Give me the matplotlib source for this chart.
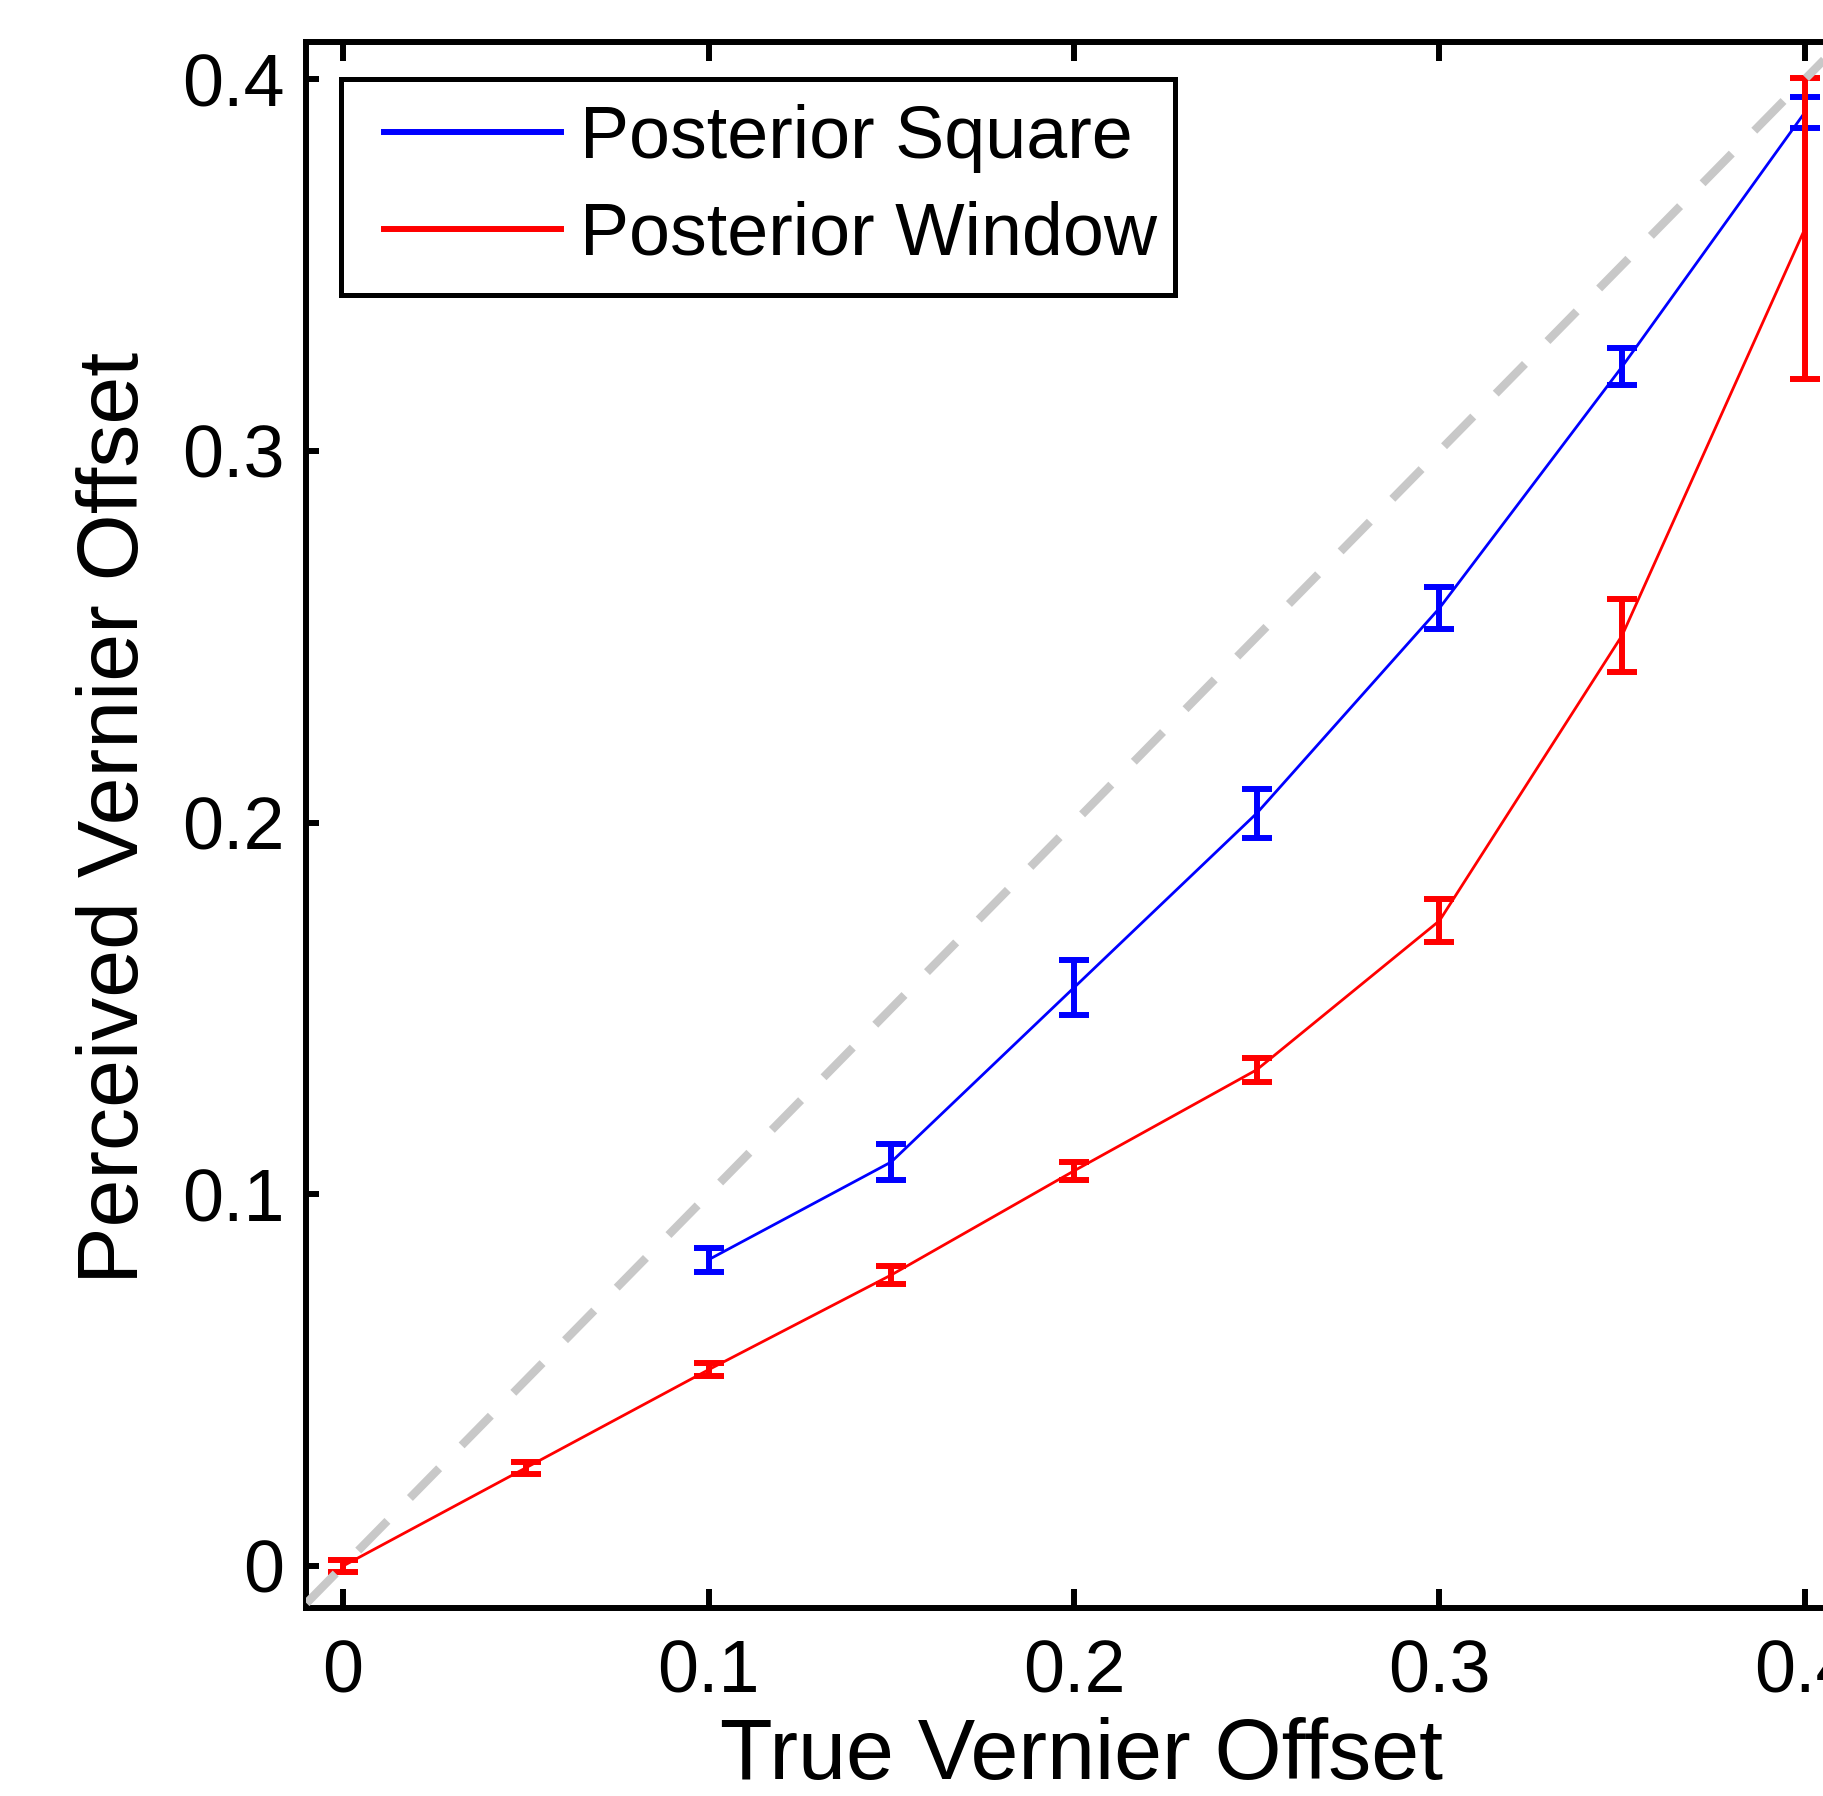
import numpy as np
import matplotlib
matplotlib.use("Agg")
import matplotlib.pyplot as plt
from matplotlib.lines import Line2D

# values
x_square = [0.10, 0.15, 0.20, 0.25, 0.30, 0.35, 0.40]
y_square = [0.0824, 0.1087, 0.1556, 0.2025, 0.2577, 0.3227, 0.3911]
e_square = [0.0032, 0.0049, 0.0073, 0.0066, 0.0057, 0.0050, 0.0042]

x_window = [0.00, 0.05, 0.10, 0.15, 0.20, 0.25, 0.30, 0.35, 0.40]
y_window = [0.0000, 0.0264, 0.0528, 0.0783, 0.1063, 0.1335, 0.1736, 0.2504, 0.3598]
e_window = [0.0016, 0.0016, 0.0017, 0.0025, 0.0024, 0.0032, 0.0058, 0.0098, 0.0404]

ticks = [0, 0.1, 0.2, 0.3, 0.4]
tick_labels = ['0', '0.1', '0.2', '0.3', '0.4']

plt.rcParams['font.family'] = ['Liberation Sans', 'DejaVu Sans']

W, H = 1824, 1796
fig = plt.figure(figsize=(W / 100, H / 100), dpi=100)
# axes runs past the right edge of the picture like in the reference
ax = fig.add_axes([306.5 / W, 1 - 1608 / H, 1535 / W, 1566 / H])

lw = 2.0
elw = 4.3
ax.errorbar(x_square, y_square, yerr=e_square, color='#0000ff', lw=lw,
            elinewidth=elw, capthick=elw, capsize=11, zorder=2)
ax.errorbar(x_window, y_window, yerr=e_window, color='#ff0000', lw=lw,
            elinewidth=elw, capthick=elw, capsize=11, zorder=3)
ax.axline((0, 0), slope=1, color='#c8c8c8', lw=6, dashes=(5.0, 3.85), zorder=4)

ax.set_xlim(-0.01, 0.41)
ax.set_ylim(-0.0113, 0.41)
ax.set_xticks(ticks)
ax.set_xticklabels(tick_labels)
ax.set_yticks(ticks)
ax.set_yticklabels(tick_labels)

for s in ax.spines.values():
    s.set_linewidth(4.3)
ax.tick_params(axis='both', direction='in', top=True, right=True,
               width=4.3, labelsize=53)
ax.tick_params(axis='x', length=13.7, pad=22)
ax.tick_params(axis='y', length=9.5, pad=16)

ax.set_xlabel('True Vernier Offset', fontsize=62)
ax.set_ylabel('Perceived Vernier Offset', fontsize=62)
ax.xaxis.set_label_coords(0.505, -0.0695)
ax.yaxis.set_label_coords(-0.098, 0.5045)

handles = [Line2D([], [], color='#0000ff', lw=4.3),
           Line2D([], [], color='#ff0000', lw=4.3)]
leg = ax.legend(handles, ['Posterior Square', 'Posterior Window'],
                loc='upper left', bbox_to_anchor=(0.0225, 0.9764, 0.5435, 0.0),
                mode='expand', borderaxespad=0, fontsize=53, fancybox=False,
                framealpha=1, edgecolor='black', handlelength=2.65,
                handletextpad=0.25, borderpad=0.34, labelspacing=0.38)
leg.get_frame().set_linewidth(3.6)

# legend lines start a bit further in from the frame in the reference
fig.canvas.draw()
for ln in leg.get_lines():
    xd = np.asarray(ln.get_xdata(), dtype=float)
    ln.set_xdata(np.linspace(xd[0] + 13, xd[-1], len(xd)))

fig.savefig('out.png', dpi=100)
